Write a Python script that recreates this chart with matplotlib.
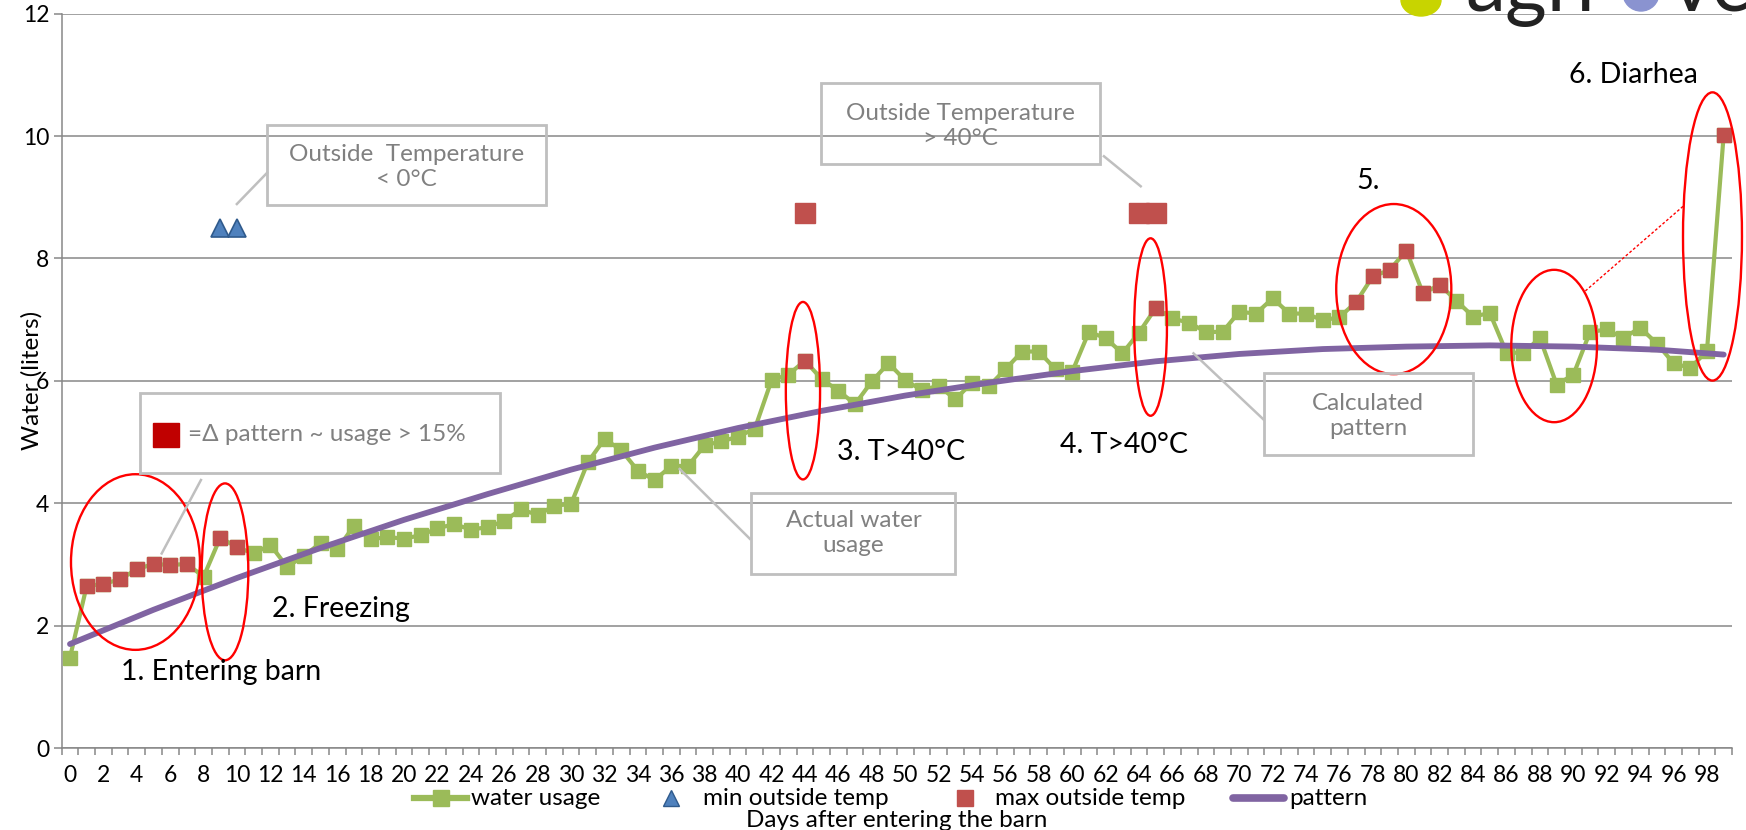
import matplotlib
matplotlib.use("Agg")
import matplotlib.pyplot as plt
from matplotlib.patches import Ellipse, Rectangle
from matplotlib.lines import Line2D
import numpy as np

plt.rcParams['font.family'] = ['Lato', 'DejaVu Sans']

# ---------------- data ----------------
days = list(range(100))
water_usage = [1.48, 2.65, 2.68, 2.76, 2.92, 3.01, 2.99, 3.01, 2.80, 3.44,
               3.28, 3.18, 3.32, 2.96, 3.14, 3.35, 3.25, 3.63, 3.41, 3.45,
               3.42, 3.48, 3.59, 3.66, 3.57, 3.61, 3.71, 3.90, 3.81, 3.96,
               3.99, 4.67, 5.05, 4.87, 4.53, 4.38, 4.61, 4.61, 4.95, 5.01,
               5.09, 5.22, 6.01, 6.10, 6.33, 6.03, 5.84, 5.62, 5.99, 6.29,
               6.01, 5.85, 5.92, 5.70, 5.97, 5.91, 6.19, 6.48, 6.48, 6.19,
               6.15, 6.80, 6.70, 6.45, 6.79, 7.19, 7.02, 6.95, 6.80, 6.80,
               7.13, 7.10, 7.35, 7.10, 7.10, 6.99, 7.04, 7.29, 7.71, 7.81,
               8.13, 7.43, 7.57, 7.31, 7.05, 7.11, 6.46, 6.46, 6.70, 5.94,
               6.10, 6.80, 6.84, 6.70, 6.87, 6.61, 6.29, 6.21, 6.49, 10.02]
highlight_days = [1, 2, 3, 4, 5, 6, 7, 9, 10, 44, 65, 77, 78, 79, 80, 81, 82, 99]
min_temp_days = [9, 10]
min_temp_vals = [8.5, 8.5]
max_temp_days = [44, 64, 65]
max_temp_vals = [8.75, 8.75, 8.75]
pattern_days = [0, 5, 10, 15, 20, 25, 30, 35, 40, 45, 50, 55, 60, 65, 70, 75, 80, 85, 90, 95, 99]
pattern_vals = [1.70, 2.26, 2.78, 3.27, 3.73, 4.15, 4.55, 4.91, 5.23, 5.51, 5.76,
                5.97, 6.16, 6.32, 6.44, 6.52, 6.56, 6.58, 6.56, 6.51, 6.43]
x_tick_labels = [str(d) for d in range(0, 100, 2)]
y_ticks = [0, 2, 4, 6, 8, 10, 12]
legend_labels = ['water usage', 'min outside temp', 'max outside temp', 'pattern']

GREEN = '#9BBB59'
RED = '#C0504D'
BLUE = '#4F81BD'
PURPLE = '#8064A2'
GRID = '#878787'
BOXC = '#BFBFBF'
BOXT = '#808080'

W, H = 1746, 830
fig = plt.figure(figsize=(W / 100, H / 100), dpi=100)
ax = fig.add_axes([0.0353, 0.0987, 0.9567, 0.8848])
ax.set_xlim(-0.5, 99.5)
ax.set_ylim(0, 12)

# grid / spines
ax.set_yticks(y_ticks)
ax.yaxis.grid(True, color=GRID, lw=1.1)
ax.set_axisbelow(True)
for s in ['top', 'right']:
    ax.spines[s].set_visible(False)
for s in ['left', 'bottom']:
    ax.spines[s].set_color(GRID)
    ax.spines[s].set_linewidth(1.1)

ax.set_xticks(range(0, 100, 2))
ax.set_xticklabels(x_tick_labels)
ax.set_xticks(np.arange(-0.5, 100, 1), minor=True)
ax.tick_params(axis='x', which='major', length=0, pad=12, labelsize=16.5)
ax.tick_params(axis='x', which='minor', length=5, color=GRID, width=1.1, direction='out')
ax.tick_params(axis='y', length=6, color=GRID, width=1.1, pad=3, labelsize=16.5)

# series
ax.plot(days, water_usage, color=GREEN, lw=3.0, marker='s', ms=10,
        mfc=GREEN, mec=GREEN, zorder=3)
ax.plot(highlight_days, [water_usage[d] for d in highlight_days], ls='none',
        marker='s', ms=10, mfc=RED, mec=RED, zorder=4)
ax.plot(min_temp_days, min_temp_vals, ls='none', marker='^', ms=13,
        mfc=BLUE, mec='#2F5A8C', mew=1.2, zorder=4)
ax.plot(max_temp_days, max_temp_vals, ls='none', marker='s', ms=14.4,
        mfc=RED, mec=RED, zorder=4)
ax.plot(pattern_days, pattern_vals, color=PURPLE, lw=4.2,
        solid_capstyle='round', solid_joinstyle='round', zorder=5)

# red ellipses
ellipses = [((3.92, 3.04), 7.72, 2.87), ((9.28, 2.88), 2.79, 2.89),
            ((43.88, 5.84), 2.05, 2.90), ((64.69, 6.88), 1.96, 2.90),
            ((79.25, 7.50), 6.89, 2.78), ((88.85, 6.57), 5.13, 2.49),
            ((98.33, 8.36), 3.53, 4.71)]
for c, w, h in ellipses:
    ax.add_patch(Ellipse(c, w, h, fill=False, ec='#FF0000', lw=1.7,
                         clip_on=False, zorder=6))
ax.plot([90.72, 96.6], [7.47, 8.86], color='#FF0000', lw=1.0, ls=(0, (2, 1.5)),
        clip_on=False, zorder=6)

# black annotations
ann = [("1. Entering barn", 9.04, 1.25), ("2. Freezing", 16.2, 2.28),
       ("3. T>40°C", 49.75, 4.83), ("4. T>40°C", 63.08, 4.96),
       ("5.", 77.7, 9.27), ("6. Diarhea", 93.6, 11.0)]
for t, x, y in ann:
    ax.text(x, y, t, ha='center', va='center', fontsize=20.5, color='black', zorder=7)

# gray callouts
def callout(x0, x1, y0, y1, text, tx, ty, leader, ha='center'):
    ax.add_patch(Rectangle((x0, y0), x1 - x0, y1 - y0, fill=False, ec=BOXC,
                           lw=2.0, clip_on=False, zorder=6))
    ax.text(tx, ty, text, ha=ha, va='center', color=BOXT, fontsize=17.5,
            linespacing=1.25, zorder=7)
    ax.plot(leader[0], leader[1], color=BOXC, lw=1.8, clip_on=False, zorder=6)

callout(11.8, 28.5, 8.87, 10.18, "Outside  Temperature\n< 0°C", 20.15, 9.50,
        ([11.8, 9.99], [9.40, 8.89]))
callout(44.94, 61.68, 9.55, 10.86, "Outside Temperature\n> 40°C", 53.3, 10.17,
        ([61.9, 64.1], [9.67, 9.18]))
callout(4.19, 25.75, 4.49, 5.80, "=Δ pattern ~ usage > 15%", 7.07, 5.12,
        ([7.84, 5.49], [4.38, 3.18]), ha='left')
ax.add_patch(Rectangle((4.97, 4.92), 1.56, 0.39, color='#C00000', zorder=7))
callout(40.74, 53.0, 2.85, 4.17, "Actual water\nusage", 46.9, 3.51,
        ([40.7, 36.5], [3.42, 4.56]))
callout(71.5, 84.0, 4.79, 6.13, "Calculated\npattern", 77.7, 5.43,
        ([71.45, 67.26], [5.37, 6.45]))

# axis titles
ax.set_ylabel("Water (liters)", fontsize=17.5)
ax.yaxis.set_label_coords(-0.0117, 0.5)
fig.text(897 / W, 1 - 820 / H, "Days after entering the barn",
         ha='center', va='center', fontsize=17.5)

# legend (laid out like the spreadsheet legend)
def fx(x):
    return x / W

def fy(y):
    return 1 - y / H

LY = 798
tf = fig.transFigure
fig.add_artist(Line2D([fx(414), fx(467)], [fy(LY)] * 2, color=GREEN, lw=4.5, transform=tf))
fig.add_artist(Line2D([fx(440.5)], [fy(LY)], ls='none', marker='s', ms=11,
                      color=GREEN, transform=tf))
fig.text(fx(471), fy(LY), legend_labels[0], ha='left', va='center', fontsize=17.5)
fig.add_artist(Line2D([fx(671)], [fy(LY)], ls='none', marker='^', ms=12,
                      mfc=BLUE, mec='#2F5A8C', transform=tf))
fig.text(fx(703), fy(LY), legend_labels[1], ha='left', va='center', fontsize=17.5)
fig.add_artist(Line2D([fx(965)], [fy(LY)], ls='none', marker='s', ms=12,
                      mfc=RED, mec=RED, transform=tf))
fig.text(fx(995), fy(LY), legend_labels[2], ha='left', va='center', fontsize=17.5)
fig.add_artist(Line2D([fx(1233), fx(1284)], [fy(LY)] * 2, color=PURPLE, lw=5.5,
                      solid_capstyle='round', transform=tf))
fig.text(fx(1289), fy(LY), legend_labels[3], ha='left', va='center', fontsize=17.5)

# partial logo at the top edge
fig.patches.append(Ellipse((1421 / W, 1.0), 40 / W, 32 / H,
                           transform=tf, color='#C8D400', zorder=1))
fig.text(1465 / W, 1 - 11 / H, "agri", fontsize=58, ha='left',
         va='baseline', color='#222222')
fig.patches.append(Ellipse((1641 / W, 1 + 7 / H), 36 / W, 36 / H,
                           transform=tf, color='#8A93D0', zorder=1))
fig.text(1670 / W, 1 - 11 / H, "ve", fontsize=58, ha='left',
         va='baseline', color='#222222')

fig.savefig("out.png", dpi=100, facecolor='white')
